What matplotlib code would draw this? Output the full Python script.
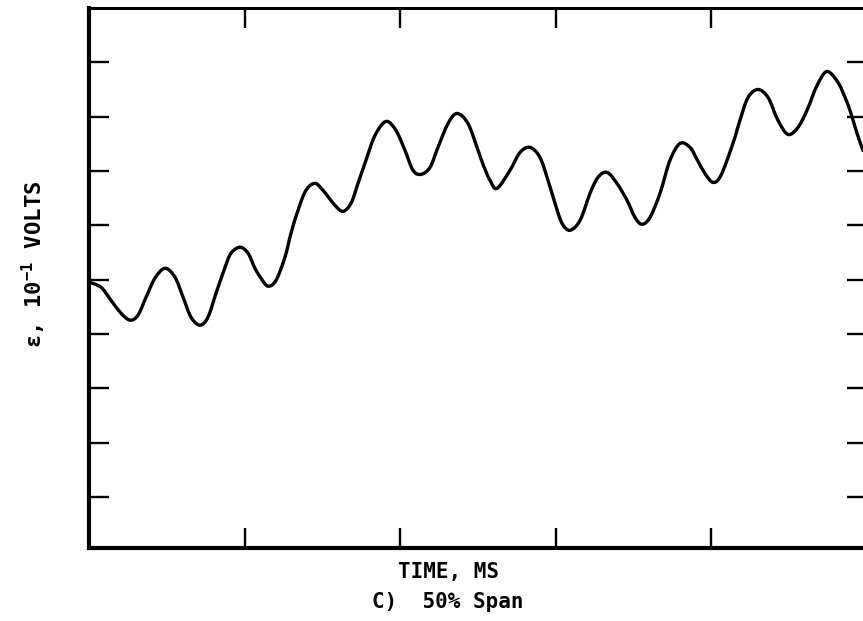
import matplotlib
matplotlib.use("Agg")
import matplotlib.pyplot as plt
import numpy as np
from matplotlib.path import Path
from matplotlib.patches import PathPatch

plt.rcParams["mathtext.default"] = "regular"

# Strain-gauge signal, epsilon in units of 0.1 V, against time (major divisions)
time_div = [
    0.000, 0.077, 0.141, 0.206, 0.264, 0.315, 0.367, 0.424, 0.489, 0.553,
    0.605, 0.656, 0.714, 0.765, 0.817, 0.875, 0.913, 0.971, 1.023, 1.067,
    1.106, 1.151, 1.203, 1.260, 1.299, 1.344, 1.395, 1.453, 1.505, 1.582,
    1.633, 1.685, 1.730, 1.781, 1.839, 1.910, 1.974, 2.032, 2.084, 2.135,
    2.193, 2.244, 2.309, 2.367, 2.437, 2.502, 2.534, 2.579, 2.624, 2.707,
    2.772, 2.836, 2.900, 2.952, 2.997, 3.042, 3.093, 3.158, 3.222, 3.273,
    3.331, 3.395, 3.460, 3.511, 3.556, 3.608, 3.672, 3.736, 3.801, 3.865,
    3.910, 3.961, 4.013, 4.064, 4.141, 4.186, 4.238, 4.302, 4.367, 4.431,
    4.495, 4.559, 4.617, 4.682, 4.746, 4.817, 4.859, 4.894, 4.939, 4.977,
]
epsilon = [
    4.952, 4.860, 4.621, 4.382, 4.254, 4.346, 4.676, 5.026, 5.210, 5.044,
    4.676, 4.309, 4.162, 4.309, 4.750, 5.228, 5.485, 5.596, 5.485, 5.210,
    5.026, 4.879, 4.989, 5.412, 5.853, 6.276, 6.643, 6.772, 6.643, 6.368,
    6.257, 6.404, 6.772, 7.195, 7.654, 7.912, 7.746, 7.379, 7.011, 6.938,
    7.066, 7.434, 7.875, 8.059, 7.875, 7.379, 7.121, 6.827, 6.680, 7.011,
    7.342, 7.434, 7.250, 6.827, 6.404, 6.037, 5.908, 6.092, 6.588, 6.882,
    6.974, 6.772, 6.460, 6.147, 6.019, 6.147, 6.588, 7.195, 7.507, 7.434,
    7.213, 6.956, 6.790, 6.919, 7.507, 7.930, 8.353, 8.500, 8.353, 7.930,
    7.673, 7.801, 8.114, 8.574, 8.831, 8.629, 8.371, 8.114, 7.691, 7.379,
]

x_ticks = [0, 1, 2, 3, 4, 5]
y_ticks = [1, 2, 3, 4, 5, 6, 7, 8, 9]


def smooth_trace_path(xs, ys):
    """Catmull-Rom curve through every sample, drawn as cubic Bezier segments."""
    pts = np.column_stack([xs, ys]).astype(float)
    padded = np.vstack([pts[0], pts, pts[-1]])
    verts = [pts[0]]
    codes = [Path.MOVETO]
    for i in range(1, len(padded) - 2):
        p0, p1, p2, p3 = padded[i - 1], padded[i], padded[i + 1], padded[i + 2]
        verts += [p1 + (p2 - p0) / 6.0, p2 - (p3 - p1) / 6.0, p2]
        codes += [Path.CURVE4] * 3
    return Path(verts, codes)


fig = plt.figure(figsize=(8.63, 6.21), dpi=100)
ax = fig.add_axes([89 / 863, 73 / 621, (866.5 - 89) / 863, 540 / 621])

ax.add_patch(PathPatch(smooth_trace_path(time_div, epsilon), facecolor="none",
                       edgecolor="black", lw=2.4, capstyle="round",
                       joinstyle="round"))

ax.set_xlim(0, 5)
ax.set_ylim(0.06, 10)
ax.set_xticks(x_ticks)
ax.set_yticks(y_ticks)
ax.set_xticklabels([])
ax.set_yticklabels([])
ax.tick_params(axis="both", which="both", direction="in", length=14.5,
               width=1.7, color="black", top=True, right=True)

for side, lw in (("left", 3.0), ("bottom", 3.0), ("top", 2.2), ("right", 2.2)):
    ax.spines[side].set_linewidth(lw)
    ax.spines[side].set_color("black")

mono = "DejaVu Sans Mono"
fig.text(448 / 863, 1 - 572 / 621, "TIME, MS", family=mono, fontsize=15,
         fontweight="bold", ha="center", va="center")
fig.text(448 / 863, 1 - 602 / 621, "C)  50% Span", family=mono, fontsize=15,
         fontweight="bold", ha="center", va="center")
fig.text(34 / 863, 1 - 264 / 621, r"ε, 10$^{-1}$ VOLTS", family=mono,
         fontsize=16, fontweight="bold", rotation=90, ha="center", va="center")

fig.savefig("out.png", dpi=100)
